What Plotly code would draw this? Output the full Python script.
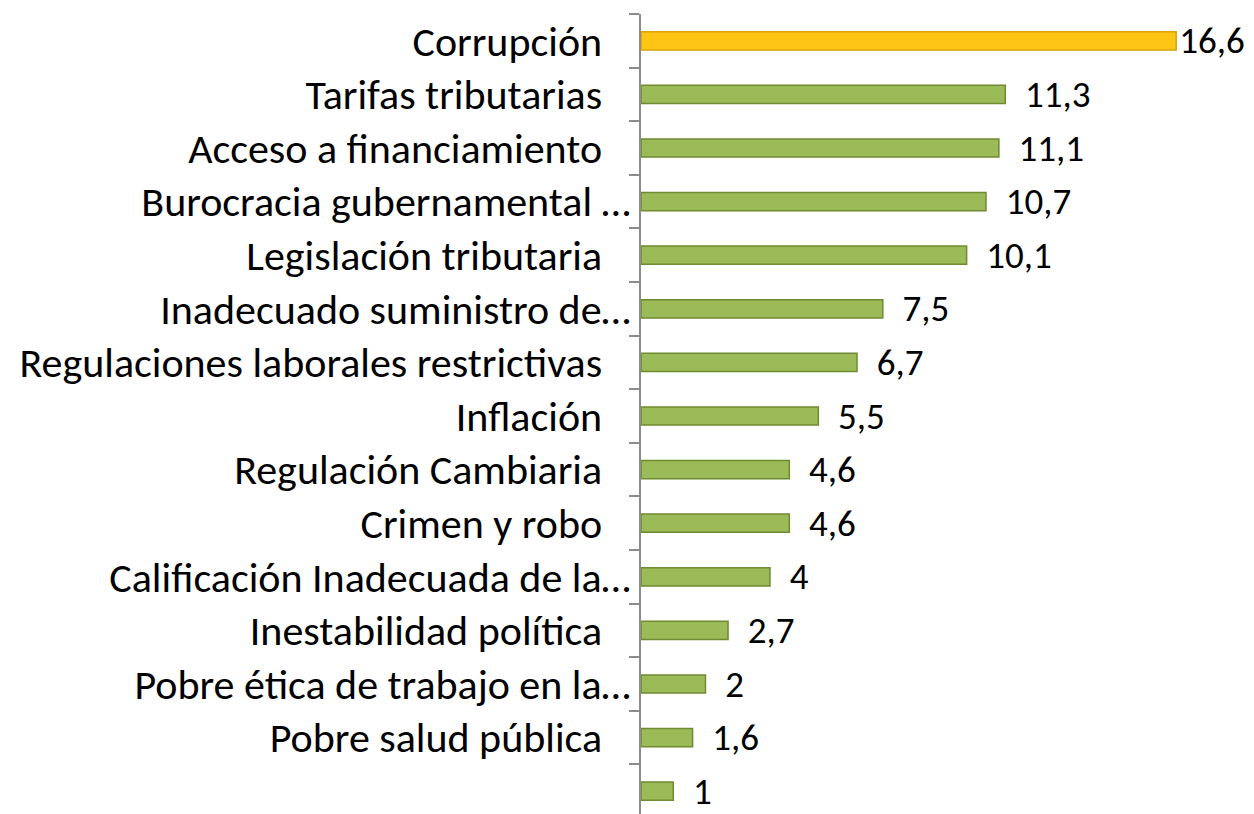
import plotly.graph_objects as go

categories = [
    "Corrupción",
    "Tarifas tributarias",
    "Acceso a financiamiento",
    "Burocracia gubernamental …",
    "Legislación tributaria",
    "Inadecuado suministro de…",
    "Regulaciones laborales restrictivas",
    "Inflación",
    "Regulación Cambiaria",
    "Crimen y robo",
    "Calificación Inadecuada de la…",
    "Inestabilidad política",
    "Pobre ética de trabajo en la…",
    "Pobre salud pública",
    " ",
]
values = [16.6, 11.3, 11.1, 10.7, 10.1, 7.5, 6.7, 5.5, 4.6, 4.6, 4.0, 2.7, 2.0, 1.6, 1.0]

FONT = "Carlito, Lato, sans-serif"
PAD = "\u00a0" * 3


def tick_label(c):
    if c.endswith("…") or not c.strip():
        return c
    return c + PAD


colors = ["#FFC514"] + ["#9BBB59"] * (len(values) - 1)
edges = ["#D9A300"] + ["#6F8A30"] * (len(values) - 1)
labels = ["\u00a0\u00a0" + f"{v:g}".replace(".", ",") for v in values]
labels[0] = f"{values[0]:g}".replace(".", ",")

fig = go.Figure(
    go.Bar(
        x=values, y=categories, orientation="h",
        marker=dict(color=colors, line=dict(color=edges, width=1.5)),
        text=labels, textposition="outside", constraintext="none",
        cliponaxis=False, textfont=dict(size=37, color="black", family=FONT),
    )
)
fig.update_layout(
    width=1254, height=814, margin=dict(l=633, r=31, t=6, b=4),
    plot_bgcolor="white", paper_bgcolor="white",
    bargap=0.66, showlegend=False,
    font=dict(family=FONT, size=42, color="black"),
    xaxis=dict(range=[0, 18.3], visible=False),
    yaxis=dict(
        autorange="reversed", tickmode="array", tickvals=categories,
        ticktext=[tick_label(c) for c in categories],
        ticks="outside", ticklen=10, tickcolor="#8c8c8c", tickwidth=2,
        tickson="boundaries", showline=True, linecolor="#8c8c8c", linewidth=2,
        showgrid=False,
    ),
)
fig.write_html("out.html")
